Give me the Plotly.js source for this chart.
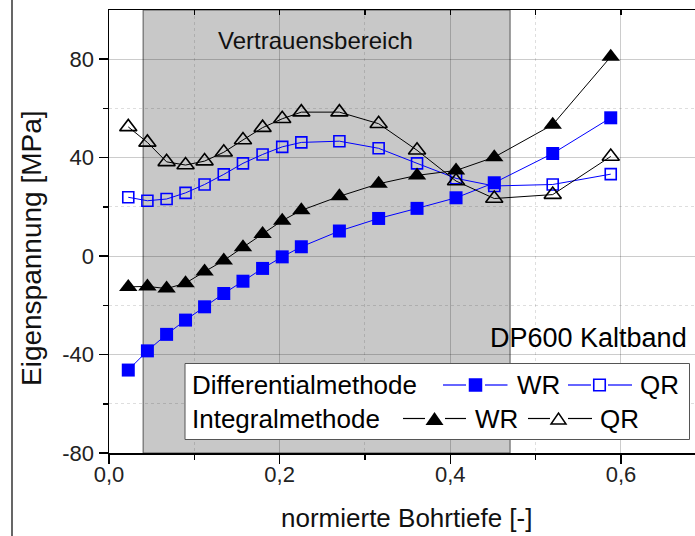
<!DOCTYPE html>
<html>
<head>
<meta charset="utf-8">
<script src="https://cdn.plot.ly/plotly-3.0.1.min.js"></script>
<style>html,body{margin:0;padding:0;background:#fff;}#chart{width:695px;height:536px;}</style>
</head>
<body>
<div id="chart"></div>
<script>
// ---- data ----
var depth = [0.0226, 0.045, 0.0675, 0.0897, 0.112, 0.1345, 0.157, 0.180, 0.203, 0.2254, 0.270, 0.316, 0.361, 0.4067, 0.4515, 0.520, 0.588];
var diffWR = [-46.3, -38.5, -31.8, -26.0, -20.6, -15.2, -10.2, -5.0, -0.3, 3.8, 10.2, 15.3, 19.4, 23.7, 29.8, 41.7, 56.2];
var diffQR = [23.9, 22.5, 23.2, 25.7, 29.1, 33.2, 37.7, 41.3, 44.4, 46.2, 46.7, 43.8, 37.7, 31.6, 28.5, 29.1, 33.3];
var intWR = [-12.5, -12.3, -13.2, -11.0, -6.3, -1.8, 3.6, 9.0, 14.4, 18.6, 24.3, 29.4, 32.8, 34.8, 40.2, 53.4, 81.0];
var intQR = [52.5, 46.2, 38.3, 37.0, 38.6, 42.2, 47.2, 52.2, 55.8, 58.5, 58.5, 53.8, 43.0, 30.5, 23.4, 25.0, 40.5];
var confidenceRange = [0.04, 0.47];
var xTickVals = [0, 0.2, 0.4, 0.6];
var xTickText = ['0,0', '0,2', '0,4', '0,6'];
var xMinorVals = [0.1, 0.3, 0.5];
var yTickVals = [-80, -40, 0, 40, 80];
var yTickText = ['-80', '-40', '0', '40', '80'];
var yMinorVals = [-60, -20, 20, 60];
var rowLabels = ['Differentialmethode', 'Integralmethode'];
var seriesLabels = ['WR', 'QR'];
var xTitle = 'normierte Bohrtiefe [-]';
var yTitle = 'Eigenspannung [MPa]';
var regionLabel = 'Vertrauensbereich';
var materialLabel = 'DP600 Kaltband';

// ---- layout helpers (pixel -> paper) ----
var W = 695, H = 536, ML = 109, MR = 0, MT = 10, MB = 83;
var PW = W - ML - MR, PH = H - MT - MB;
function px(X) { return (X - ML) / PW; }
function py(Y) { return (H - MB - Y) / PH; }

var FONT = 'Liberation Sans, Arial, sans-serif';
var BLUE = '#0000ff';

var traces = [
  {x: depth, y: diffWR, mode: 'lines+markers', name: 'Differentialmethode WR', showlegend: false,
   line: {color: BLUE, width: 1}, marker: {symbol: 'square', size: 13, color: BLUE}},
  {x: depth, y: diffQR, mode: 'lines+markers', name: 'Differentialmethode QR', showlegend: false,
   line: {color: BLUE, width: 1}, marker: {symbol: 'square-open', size: 11, color: BLUE, line: {width: 1.6, color: BLUE}}},
  {x: depth, y: intWR, mode: 'lines+markers', name: 'Integralmethode WR', showlegend: false,
   line: {color: '#000', width: 1}, marker: {symbol: 'triangle-up', size: 16, color: '#000'}},
  {x: depth, y: intQR, mode: 'lines+markers', name: 'Integralmethode QR', showlegend: false,
   line: {color: '#000', width: 1}, marker: {symbol: 'triangle-up-open', size: 15, color: '#000', line: {width: 1.6, color: '#000'}}},
  {x: [0], y: [0], xaxis: 'x2', mode: 'markers', marker: {opacity: 0}, showlegend: false, hoverinfo: 'skip'}
];

var shapes = [
  // confidence range
  {type: 'rect', xref: 'x', yref: 'paper', x0: confidenceRange[0], x1: confidenceRange[1], y0: 0, y1: 1,
   fillcolor: '#c8c8c8', line: {color: '#555', width: 1}, layer: 'below'},
  // page border line at left
  {type: 'line', xref: 'paper', yref: 'paper', x0: px(12), x1: px(12), y0: py(536), y1: py(0),
   line: {color: '#000', width: 1.2}},
  // legend box
  {type: 'rect', xref: 'paper', yref: 'paper', x0: px(185), x1: px(689.5), y0: py(439.5), y1: py(363.5),
   fillcolor: '#fff', line: {color: '#555', width: 1}, layer: 'above'}
];

function hline(x0, x1, y, color) {
  shapes.push({type: 'line', xref: 'paper', yref: 'paper', x0: px(x0), x1: px(x1), y0: py(y), y1: py(y),
    line: {color: color, width: 1.2}, layer: 'above'});
}
function sq(cx, cy, s, filled) {
  shapes.push({type: 'rect', xref: 'paper', yref: 'paper', x0: px(cx - s / 2), x1: px(cx + s / 2), y0: py(cy + s / 2), y1: py(cy - s / 2),
    fillcolor: filled ? BLUE : '#fff', line: {color: BLUE, width: filled ? 0 : 1.6}, layer: 'above'});
}
function tri(cx, cy, w, h, filled) {
  var p = 'M ' + px(cx - w / 2) + ' ' + py(cy + h / 2) + ' L ' + px(cx + w / 2) + ' ' + py(cy + h / 2) +
          ' L ' + px(cx) + ' ' + py(cy - h / 2) + ' Z';
  shapes.push({type: 'path', xref: 'paper', yref: 'paper', path: p,
    fillcolor: filled ? '#000' : '#fff', line: {color: '#000', width: filled ? 0 : 1.5}, layer: 'above'});
}
// legend row 1 (Differentialmethode)
var r1 = 385, r2 = 418.5;
hline(443, 466, r1, BLUE); sq(475.5, r1, 13.5, true); hline(485, 507.5, r1, BLUE);
hline(568, 591, r1, BLUE); sq(599.5, r1, 11.5, false); hline(608, 632, r1, BLUE);
// legend row 2 (Integralmethode)
hline(403, 425, r2, '#000'); tri(434.5, r2, 18, 13, true); hline(445, 466, r2, '#000');
hline(528, 550, r2, '#000'); tri(558.5, r2, 15, 11, false); hline(568, 592, r2, '#000');

var annotations = [
  {text: regionLabel, xref: 'paper', yref: 'paper', x: px(315), y: py(40), xanchor: 'center', yanchor: 'middle',
   showarrow: false, font: {family: FONT, size: 24, color: '#111'}},
  {text: materialLabel, xref: 'paper', yref: 'paper', x: px(689), y: py(338), xanchor: 'right', yanchor: 'middle',
   showarrow: false, font: {family: FONT, size: 27, color: '#000'}},
  {text: yTitle, xref: 'paper', yref: 'paper', x: px(31), y: py(248), xanchor: 'center', yanchor: 'middle', textangle: -90,
   showarrow: false, font: {family: FONT, size: 28, color: '#111'}},
  {text: xTitle, xref: 'paper', yref: 'paper', x: px(406), y: py(535), xanchor: 'center', yanchor: 'bottom',
   showarrow: false, font: {family: FONT, size: 26, color: '#111'}},
  {text: rowLabels[0], xref: 'paper', yref: 'paper', x: px(190), y: py(r1), xanchor: 'left', yanchor: 'middle',
   showarrow: false, font: {family: FONT, size: 26, color: '#000'}},
  {text: rowLabels[1], xref: 'paper', yref: 'paper', x: px(190), y: py(r2), xanchor: 'left', yanchor: 'middle',
   showarrow: false, font: {family: FONT, size: 26, color: '#000'}},
  {text: seriesLabels[0], xref: 'paper', yref: 'paper', x: px(515), y: py(r1), xanchor: 'left', yanchor: 'middle',
   showarrow: false, font: {family: FONT, size: 26, color: '#000'}},
  {text: seriesLabels[1], xref: 'paper', yref: 'paper', x: px(638), y: py(r1), xanchor: 'left', yanchor: 'middle',
   showarrow: false, font: {family: FONT, size: 26, color: '#000'}},
  {text: seriesLabels[0], xref: 'paper', yref: 'paper', x: px(473), y: py(r2), xanchor: 'left', yanchor: 'middle',
   showarrow: false, font: {family: FONT, size: 26, color: '#000'}},
  {text: seriesLabels[1], xref: 'paper', yref: 'paper', x: px(598), y: py(r2), xanchor: 'left', yanchor: 'middle',
   showarrow: false, font: {family: FONT, size: 26, color: '#000'}}
];

var xRange = [0, PW / 853.3];
var GRID = 'rgba(0,0,0,0.2)';
var MINORGRID = 'rgba(0,0,0,0.13)';

var layout = {
  width: W, height: H,
  margin: {l: ML, r: MR, t: MT, b: MB, pad: 0},
  paper_bgcolor: '#fff', plot_bgcolor: 'rgba(0,0,0,0)',
  showlegend: false,
  xaxis: {
    range: xRange, tickvals: xTickVals, ticktext: xTickText,
    ticks: 'outside', ticklen: 9, tickwidth: 1.5, tickcolor: '#000',
    showline: true, linecolor: '#000', linewidth: 1.5, zeroline: false,
    showgrid: true, gridcolor: GRID, gridwidth: 1,
    minor: {tickvals: xMinorVals, ticks: 'outside', ticklen: 5, tickwidth: 1.5, tickcolor: '#000',
            showgrid: true, gridcolor: MINORGRID, griddash: 'dot', gridwidth: 1},
    tickfont: {family: FONT, size: 22, color: '#222'},
    ticklabelstandoff: -8,
    fixedrange: true
  },
  xaxis2: {
    overlaying: 'x', side: 'top', anchor: 'y', range: xRange,
    tick0: 0, dtick: 0.1, ticks: 'inside', ticklen: 5, tickwidth: 1.5, tickcolor: '#000',
    showticklabels: false, showline: true, linecolor: '#000', linewidth: 1.5,
    showgrid: false, zeroline: false, fixedrange: true
  },
  yaxis: {
    range: [-80, 100], tickvals: yTickVals, ticktext: yTickText,
    ticks: 'outside', ticklen: 9, tickwidth: 1.5, tickcolor: '#000',
    showline: true, linecolor: '#000', linewidth: 1.5, zeroline: false,
    showgrid: true, gridcolor: GRID, gridwidth: 1,
    minor: {tickvals: yMinorVals, ticks: 'outside', ticklen: 5, tickwidth: 1.5, tickcolor: '#000',
            showgrid: true, gridcolor: MINORGRID, griddash: 'dot', gridwidth: 1},
    tickfont: {family: FONT, size: 22, color: '#222'},
    fixedrange: true
  },
  shapes: shapes,
  annotations: annotations
};

Plotly.newPlot('chart', traces, layout, {staticPlot: true, displayModeBar: false});
</script>
</body>
</html>
